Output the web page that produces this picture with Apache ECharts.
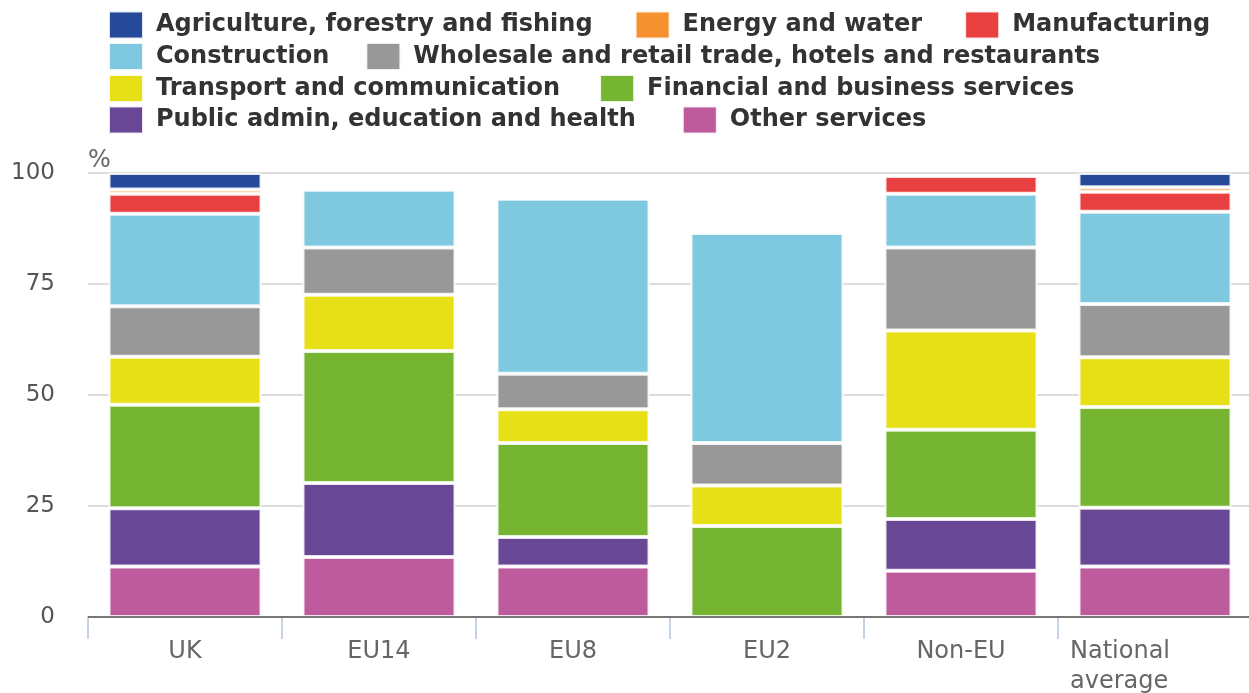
<!DOCTYPE html>
<html>
<head>
<meta charset="utf-8">
<script src="https://cdn.jsdelivr.net/npm/echarts@6/dist/echarts.min.js"></script>
<style>html,body{margin:0;padding:0;background:#fff}#c{width:1249px;height:693px}</style>
</head>
<body>
<div id="c"></div>
<script>
const categories = ['UK', 'EU14', 'EU8', 'EU2', 'Non-EU', 'National average'];
const agriculture   = [3.7, null, null, null, null, 3.2];
const energy        = [1.0, null, null, null, null, 1.0];
const manufacturing = [4.5, null, null, null, 4.0, 4.5];
const construction  = [20.8, 13.0, 39.4, 47.3, 12.1, 20.8];
const wholesale     = [11.4, 10.6, 8.0, 9.6, 18.7, 12.0];
const transport     = [10.8, 12.7, 7.6, 9.1, 22.3, 11.2];
const financial     = [23.3, 29.7, 21.2, 20.5, 20.1, 22.7];
const publicAdmin   = [13.1, 16.7, 6.6, null, 11.7, 13.2];
const otherServices = [11.4, 13.5, 11.4, null, 10.4, 11.4];
const yTicks = [0, 25, 50, 75, 100];

const names = {
  agri: 'Agriculture, forestry and fishing',
  energy: 'Energy and water',
  manuf: 'Manufacturing',
  constr: 'Construction',
  whole: 'Wholesale and retail trade, hotels and restaurants',
  trans: 'Transport and communication',
  fin: 'Financial and business services',
  pub: 'Public admin, education and health',
  other: 'Other services'
};
const colors = {
  agri: '#264a99', energy: '#f5922f', manuf: '#e84040', constr: '#7ec8e0',
  whole: '#989898', trans: '#e8e017', fin: '#76b532', pub: '#684895', other: '#bd5b9c'
};
const stackOrder = [
  ['other', otherServices], ['pub', publicAdmin], ['fin', financial], ['trans', transport],
  ['whole', wholesale], ['constr', construction], ['manuf', manufacturing], ['energy', energy], ['agri', agriculture]
];

const series = stackOrder.map(([k, d]) => ({
  name: names[k], type: 'bar', stack: 'total', data: d, barWidth: 153, z: 3,
  itemStyle: { color: colors[k], borderColor: 'rgba(255,255,255,0.85)', borderWidth: 2 },
  emphasis: { disabled: true }
}));
// zero baseline drawn behind the bars
series.push({
  name: 'baseline', type: 'line', data: [], z: 1, silent: true,
  markLine: { silent: true, symbol: ['none', 'none'], label: { show: false },
    lineStyle: { color: '#777', width: 2, type: 'solid' }, data: [{ yAxis: 0 }] }
});

const legendRows = [
  [names.agri, names.energy, names.manuf],
  [names.constr, names.whole],
  [names.trans, names.fin],
  [names.pub, names.other]
];
const legendTops = [5.5, 37, 69, 100.5];
const legendGaps = [42, 36, 39, 46];
const legends = legendRows.map((row, i) => ({
  data: row, left: 103, top: legendTops[i], itemGap: legendGaps[i],
  itemWidth: 34, itemHeight: 27, icon: 'rect', selectedMode: false,
  textStyle: { fontFamily: 'DejaVu Sans', fontWeight: 'bold', fontSize: 24, color: '#333', padding: [0, 0, 0, 8] }
}));

const chart = echarts.init(document.getElementById('c'), null, { renderer: 'canvas' });
chart.setOption({
  animation: false,
  backgroundColor: '#fff',
  legend: legends,
  grid: { left: 88, right: -3, top: 173, bottom: 76, containLabel: false, outerBoundsMode: 'none' },
  xAxis: {
    type: 'category', data: categories, offset: 3,
    axisLine: { lineStyle: { color: '#c5d3e3', width: 2 } },
    axisTick: { show: true, alignWithLabel: false, length: 22, lineStyle: { color: '#c5d3e3', width: 2 } },
    axisLabel: {
      interval: 0, margin: 17, fontFamily: 'DejaVu Sans', fontSize: 24, color: '#666', lineHeight: 30,
      formatter: v => v === 'National average' ? '{n|National}\n{n|average}' : v,
      rich: { n: { width: 170, align: 'left', fontFamily: 'DejaVu Sans', fontSize: 24, color: '#666', lineHeight: 30 } }
    }
  },
  yAxis: {
    type: 'value', min: 0, max: 100, interval: 25,
    name: '%', nameLocation: 'end', nameGap: 0,
    nameTextStyle: { fontFamily: 'DejaVu Sans', fontSize: 24, color: '#666', align: 'left', padding: [0, 0, 0, 0] },
    axisLine: { show: false }, axisTick: { show: false },
    axisLabel: { margin: 33, fontFamily: 'DejaVu Sans', fontSize: 23, color: '#555',
      formatter: v => yTicks.includes(v) ? String(v) : '' },
    splitLine: { show: true, lineStyle: { color: '#dcdcdc', width: 2 } }
  },
  series: series
});
</script>
</body>
</html>
